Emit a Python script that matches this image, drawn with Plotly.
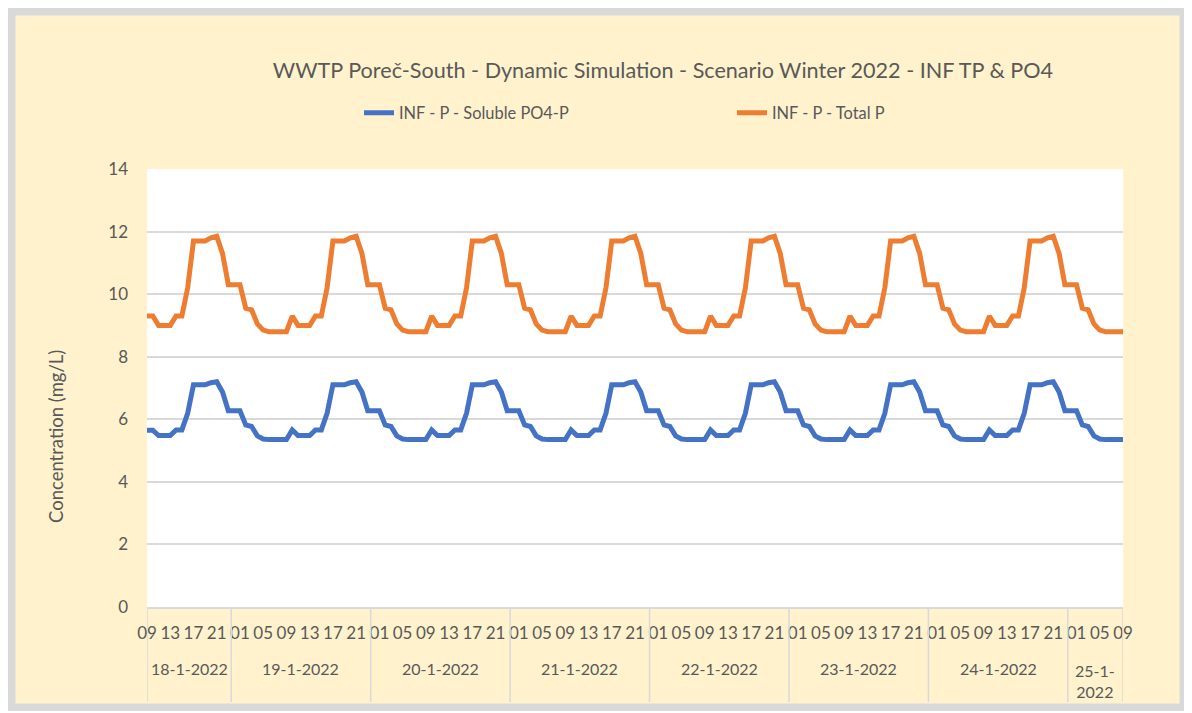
import plotly.graph_objects as go

# ---- data (hourly, 18-1-2022 09:00 .. 25-1-2022 09:00) ----
dates = ["18-1-2022", "19-1-2022", "20-1-2022", "21-1-2022", "22-1-2022",
         "23-1-2022", "24-1-2022", "25-1-2022"]
hours_per_day = [list(range(9, 24))] + [list(range(0, 24))] * 6 + [list(range(0, 10))]

total_p = [
    9.3, 9.3, 9.0, 9.0, 9.0, 9.3, 9.3, 10.2, 11.7, 11.7, 11.7, 11.8, 11.85, 11.3, 10.3,
    10.3, 10.3, 9.55, 9.5, 9.05, 8.85, 8.8, 8.8, 8.8, 8.8, 9.3, 9.0, 9.0, 9.0, 9.3, 9.3, 10.2, 11.7, 11.7, 11.7, 11.8, 11.85, 11.3, 10.3,
    10.3, 10.3, 9.55, 9.5, 9.05, 8.85, 8.8, 8.8, 8.8, 8.8, 9.3, 9.0, 9.0, 9.0, 9.3, 9.3, 10.2, 11.7, 11.7, 11.7, 11.8, 11.85, 11.3, 10.3,
    10.3, 10.3, 9.55, 9.5, 9.05, 8.85, 8.8, 8.8, 8.8, 8.8, 9.3, 9.0, 9.0, 9.0, 9.3, 9.3, 10.2, 11.7, 11.7, 11.7, 11.8, 11.85, 11.3, 10.3,
    10.3, 10.3, 9.55, 9.5, 9.05, 8.85, 8.8, 8.8, 8.8, 8.8, 9.3, 9.0, 9.0, 9.0, 9.3, 9.3, 10.2, 11.7, 11.7, 11.7, 11.8, 11.85, 11.3, 10.3,
    10.3, 10.3, 9.55, 9.5, 9.05, 8.85, 8.8, 8.8, 8.8, 8.8, 9.3, 9.0, 9.0, 9.0, 9.3, 9.3, 10.2, 11.7, 11.7, 11.7, 11.8, 11.85, 11.3, 10.3,
    10.3, 10.3, 9.55, 9.5, 9.05, 8.85, 8.8, 8.8, 8.8, 8.8, 9.3, 9.0, 9.0, 9.0, 9.3, 9.3, 10.2, 11.7, 11.7, 11.7, 11.8, 11.85, 11.3, 10.3,
    10.3, 10.3, 9.55, 9.5, 9.05, 8.85, 8.8, 8.8, 8.8, 8.8,
]

soluble_po4 = [
    5.65, 5.65, 5.48, 5.48, 5.48, 5.66, 5.66, 6.19, 7.1, 7.1, 7.1, 7.17, 7.2, 6.87, 6.27,
    6.27, 6.27, 5.82, 5.77, 5.47, 5.37, 5.35, 5.35, 5.35, 5.35, 5.66, 5.48, 5.48, 5.48, 5.66, 5.66, 6.19, 7.1, 7.1, 7.1, 7.17, 7.2, 6.87, 6.27,
    6.27, 6.27, 5.82, 5.77, 5.47, 5.37, 5.35, 5.35, 5.35, 5.35, 5.66, 5.48, 5.48, 5.48, 5.66, 5.66, 6.19, 7.1, 7.1, 7.1, 7.17, 7.2, 6.87, 6.27,
    6.27, 6.27, 5.82, 5.77, 5.47, 5.37, 5.35, 5.35, 5.35, 5.35, 5.66, 5.48, 5.48, 5.48, 5.66, 5.66, 6.19, 7.1, 7.1, 7.1, 7.17, 7.2, 6.87, 6.27,
    6.27, 6.27, 5.82, 5.77, 5.47, 5.37, 5.35, 5.35, 5.35, 5.35, 5.66, 5.48, 5.48, 5.48, 5.66, 5.66, 6.19, 7.1, 7.1, 7.1, 7.17, 7.2, 6.87, 6.27,
    6.27, 6.27, 5.82, 5.77, 5.47, 5.37, 5.35, 5.35, 5.35, 5.35, 5.66, 5.48, 5.48, 5.48, 5.66, 5.66, 6.19, 7.1, 7.1, 7.1, 7.17, 7.2, 6.87, 6.27,
    6.27, 6.27, 5.82, 5.77, 5.47, 5.37, 5.35, 5.35, 5.35, 5.35, 5.66, 5.48, 5.48, 5.48, 5.66, 5.66, 6.19, 7.1, 7.1, 7.1, 7.17, 7.2, 6.87, 6.27,
    6.27, 6.27, 5.82, 5.77, 5.47, 5.37, 5.35, 5.35, 5.35, 5.35,
]

y_ticks = [0, 2, 4, 6, 8, 10, 12, 14]

# ---- derived category structure ----
hour_labels = []
day_spans = []
for d, hrs in zip(dates, hours_per_day):
    start = len(hour_labels)
    hour_labels += ["%02d" % h for h in hrs]
    day_spans.append((start, len(hour_labels) - 1))
x = list(range(len(hour_labels)))
xmax = x[-1]

TXT = "#595959"
GRID = "#D9D9D9"
FONT = "Lato"

# page body has an 8px margin: work in screen pixels, convert with OFF
OFF = 8
W, H = 1179, 703
PL, PR, PT, PB = 147, 1123, 169, 607          # plot area in screen px
ML, MR, MT, MB = PL - OFF, W - (PR - OFF), PT - OFF, H - (PB - OFF)
PW, PH = PR - PL, PB - PT

def px_x(p):
    return (p - PL) / PW

def px_y(p):
    return (PB - p) / PH

fig = go.Figure()
fig.add_trace(go.Scatter(x=x, y=soluble_po4, mode="lines", name="INF - P - Soluble PO4-P",
                         line=dict(color="#4472C4", width=5)))
fig.add_trace(go.Scatter(x=x, y=total_p, mode="lines", name="INF - P - Total P",
                         line=dict(color="#ED7D31", width=5)))

shapes = []
bounds = [0] + [s - 0.5 for s, e in day_spans[1:]] + [xmax]
for b in bounds:
    shapes.append(dict(type="line", xref="x", yref="paper", x0=b, x1=b,
                       y0=0, y1=px_y(702), line=dict(color=GRID, width=1.5), layer="above"))
# grey frame along the figure edges
shapes.append(dict(type="rect", xref="paper", yref="paper",
                   x0=px_x(OFF + 3.5), x1=px_x(OFF + W - 3.5),
                   y0=px_y(OFF + H - 3.5), y1=px_y(OFF + 3.5),
                   line=dict(color=GRID, width=8), layer="above"))

annotations = []
for d, (s, e) in zip(dates, day_spans):
    lo = max(s - 0.5, 0)
    hi = min(e + 0.5, xmax)
    if hi - lo > 12:
        annotations.append(dict(x=(lo + hi) / 2, xref="x", y=px_y(668), yref="paper",
                                text=d, showarrow=False, xanchor="center", yanchor="middle",
                                font=dict(family=FONT, size=16, color=TXT)))
    else:
        annotations.append(dict(x=(lo + hi) / 2, xref="x", y=px_y(681), yref="paper",
                                text=d.replace("1-2022", "1-<br>2022"), showarrow=False,
                                xanchor="center", yanchor="middle",
                                font=dict(family=FONT, size=16, color=TXT)))
annotations.append(dict(x=px_x(56), y=px_y(437), xref="paper", yref="paper",
                        text="Concentration (mg/L)", textangle=-90, showarrow=False,
                        xanchor="center", yanchor="middle",
                        font=dict(family=FONT, size=18.5, color=TXT)))

fig.update_layout(
    width=W, height=H,
    margin=dict(l=ML, r=MR, t=MT, b=MB),
    paper_bgcolor="#FFF2CC", plot_bgcolor="white",
    title=dict(text="WWTP Poreč-South - Dynamic Simulation - Scenario Winter 2022 - INF TP & PO4",
               x=(663 - OFF) / W, xanchor="center", y=1 - (70 - OFF) / H, yanchor="middle",
               font=dict(family=FONT, size=21.6, color=TXT)),
    legend=dict(orientation="h", x=px_x(359), y=px_y(113), xanchor="left", yanchor="middle",
                font=dict(family=FONT, size=16.4, color=TXT), entrywidth=328,
                bgcolor="rgba(0,0,0,0)"),
    shapes=shapes, annotations=annotations,
    showlegend=True,
)
fig.update_xaxes(range=[0, xmax], tickmode="array", tickvals=x[::4], ticktext=hour_labels[::4],
                 tickangle=0, showgrid=False, zeroline=False, showline=True, linecolor=GRID,
                 linewidth=1.5, ticks="", ticklabelstandoff=10,
                 tickfont=dict(family=FONT, size=17, color=TXT))
fig.update_yaxes(range=[0, 14], tickmode="array", tickvals=y_ticks, showgrid=True, gridcolor=GRID,
                 gridwidth=1.5, zeroline=False, showline=False, ticks="", ticklabelstandoff=18,
                 tickfont=dict(family=FONT, size=17, color=TXT))

fig.write_html("out.html")
